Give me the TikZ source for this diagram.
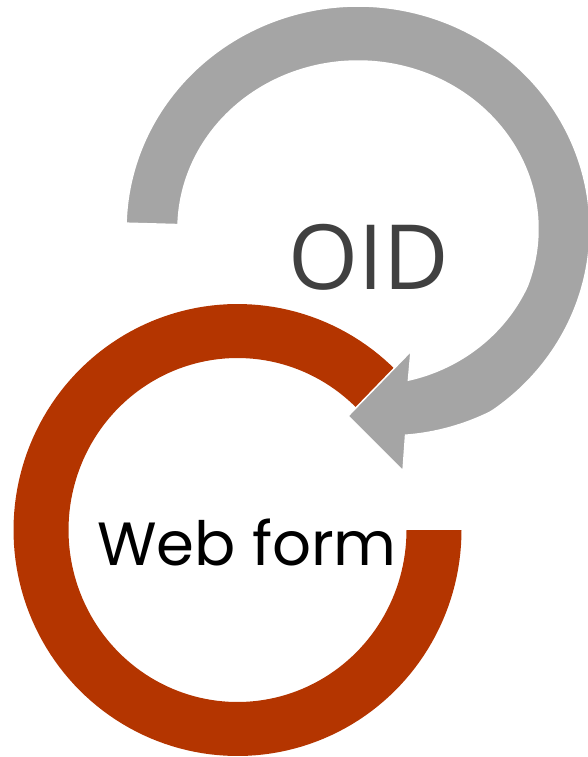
\documentclass[tikz,border=0pt]{standalone}
\usepackage{fontspec}
\newfontfamily\oidfont{Open Sans}
\newfontfamily\webfont{Poppins}
\definecolor{arrowgray}{HTML}{A5A5A5}
\definecolor{rustred}{HTML}{B43500}
\definecolor{oidtext}{HTML}{404040}
\tikzset{
  ringred/.style={fill=rustred},
  ringgray/.style={fill=arrowgray, draw=white, line width=1.5pt, line join=miter},
  lbl/.style={inner sep=0pt}
}
\begin{document}
\begin{tikzpicture}[x=1pt,y=-1pt]
\useasboundingbox (0,0) rectangle (588,757);
% red ring
\fill[ringred] plot[domain=45:360,samples=160] ({237.5+224*cos(\x)},{530-226*sin(\x)})
  -- plot[domain=360:45,samples=160] ({237.5+169*cos(\x)},{530-172*sin(\x)}) -- cycle;
% gray circular arrow
\filldraw[ringgray]
  plot[domain=178.5:-77.5, samples=220] ({358+232*(1-0.002356*max(0,-55-\x))*cos(\x)},{229-223*(1-0.002356*max(0,-55-\x))*sin(\x)})
  -- (403,471) -- (348,416) -- (411,351)
  -- plot[domain=-72.7:178.5, samples=220] ({358+180*(1-0.0011*max(0,-20-\x))*cos(\x)},{229-168*(1-0.0011*max(0,-20-\x))*sin(\x)})
  -- cycle;
% labels
\node[lbl, font=\oidfont\fontsize{90}{90}\selectfont, text=oidtext, anchor=base] (oid) at (369,289) {OID};
\node[lbl, font=\webfont\fontsize{61}{61}\selectfont, text=black, anchor=base west] (web) at (97,565) {Web form};
\end{tikzpicture}
\end{document}
